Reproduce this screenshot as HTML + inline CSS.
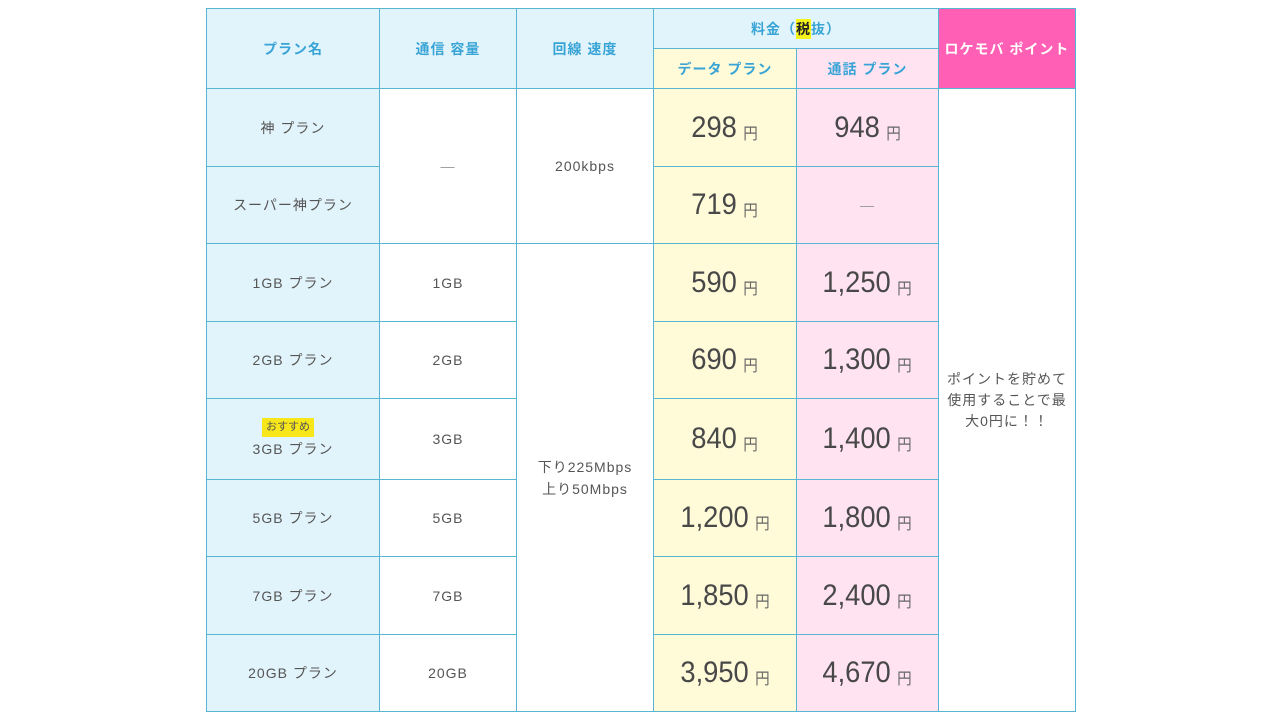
<!DOCTYPE html>
<html>
<head>
<meta charset="utf-8">
<style>
html,body{margin:0;padding:0;background:#fff;}
body{width:1280px;height:720px;position:relative;overflow:hidden;font-family:"Liberation Sans","Noto Sans CJK JP",sans-serif;}
.c{position:absolute;box-sizing:border-box;border:1px solid #58b6d3;display:flex;align-items:center;justify-content:center;text-align:center;color:#555;font-size:14px;letter-spacing:1px;}
.hb{background:#e2f4fb;}
.y{background:#fffad8;}
.p{background:#ffe3f1;}
.w{background:#fff;}
.h{color:#38a4d6;font-weight:bold;font-size:14px;letter-spacing:1px;}
.pk{background:#ff5fb4;color:#fff;font-weight:bold;}
.pr{display:inline-block;white-space:nowrap;transform:scaleX(0.91);transform-origin:center center;letter-spacing:0;}
.num{font-size:30px;color:#484848;}
.en{font-size:16px;color:#666;margin-left:7px;position:relative;top:2px;}
.dash{color:#999;}
.badge{display:inline-block;background:#f7e619;color:#555;font-size:11px;padding:2px 4px;letter-spacing:0;line-height:15px;}
.tax{background:#f4f31a;color:#222;}
</style>
</head>
<body>
<!-- header -->
<div class="c hb h" style="left:206px;top:8px;width:174px;height:81px;">プラン名</div>
<div class="c hb h" style="left:379px;top:8px;width:138px;height:81px;">通信 容量</div>
<div class="c hb h" style="left:516px;top:8px;width:138px;height:81px;">回線 速度</div>
<div class="c hb h" style="left:653px;top:8px;width:286px;height:41px;">料金（<span class="tax">税</span>抜）</div>
<div class="c y h" style="left:653px;top:48px;width:144px;height:41px;">データ プラン</div>
<div class="c p h" style="left:796px;top:48px;width:143px;height:41px;">通話 プラン</div>
<div class="c pk" style="left:938px;top:8px;width:138px;height:81px;">ロケモバ ポイント</div>

<!-- col0 plan names -->
<div class="c hb" style="left:206px;top:88px;width:174px;height:79px;">神 プラン</div>
<div class="c hb" style="left:206px;top:166px;width:174px;height:78px;">スーパー神プラン</div>
<div class="c hb" style="left:206px;top:243px;width:174px;height:79px;">1GB プラン</div>
<div class="c hb" style="left:206px;top:321px;width:174px;height:78px;">2GB プラン</div>
<div class="c hb" style="left:206px;top:398px;width:174px;height:82px;flex-direction:column;"><span class="badge" style="margin-top:-2px;margin-left:-10px;">おすすめ</span><span style="margin-top:2px;">3GB プラン</span></div>
<div class="c hb" style="left:206px;top:479px;width:174px;height:78px;">5GB プラン</div>
<div class="c hb" style="left:206px;top:556px;width:174px;height:79px;">7GB プラン</div>
<div class="c hb" style="left:206px;top:634px;width:174px;height:78px;">20GB プラン</div>

<!-- col1 capacity -->
<div class="c w dash" style="left:379px;top:88px;width:138px;height:156px;">—</div>
<div class="c w" style="left:379px;top:243px;width:138px;height:79px;">1GB</div>
<div class="c w" style="left:379px;top:321px;width:138px;height:78px;">2GB</div>
<div class="c w" style="left:379px;top:398px;width:138px;height:82px;">3GB</div>
<div class="c w" style="left:379px;top:479px;width:138px;height:78px;">5GB</div>
<div class="c w" style="left:379px;top:556px;width:138px;height:79px;">7GB</div>
<div class="c w" style="left:379px;top:634px;width:138px;height:78px;">20GB</div>

<!-- col2 speed -->
<div class="c w" style="left:516px;top:88px;width:138px;height:156px;">200kbps</div>
<div class="c w" style="left:516px;top:243px;width:138px;height:469px;line-height:22px;">下り225Mbps<br>上り50Mbps</div>

<!-- col3 data prices -->
<div class="c y" style="left:653px;top:88px;width:144px;height:79px;"><span class="pr"><span class="num">298</span><span class="en">円</span></span></div>
<div class="c y" style="left:653px;top:166px;width:144px;height:78px;"><span class="pr"><span class="num">719</span><span class="en">円</span></span></div>
<div class="c y" style="left:653px;top:243px;width:144px;height:79px;"><span class="pr"><span class="num">590</span><span class="en">円</span></span></div>
<div class="c y" style="left:653px;top:321px;width:144px;height:78px;"><span class="pr"><span class="num">690</span><span class="en">円</span></span></div>
<div class="c y" style="left:653px;top:398px;width:144px;height:82px;"><span class="pr"><span class="num">840</span><span class="en">円</span></span></div>
<div class="c y" style="left:653px;top:479px;width:144px;height:78px;"><span class="pr"><span class="num">1,200</span><span class="en">円</span></span></div>
<div class="c y" style="left:653px;top:556px;width:144px;height:79px;"><span class="pr"><span class="num">1,850</span><span class="en">円</span></span></div>
<div class="c y" style="left:653px;top:634px;width:144px;height:78px;"><span class="pr"><span class="num">3,950</span><span class="en">円</span></span></div>

<!-- col4 call prices -->
<div class="c p" style="left:796px;top:88px;width:143px;height:79px;"><span class="pr"><span class="num">948</span><span class="en">円</span></span></div>
<div class="c p dash" style="left:796px;top:166px;width:143px;height:78px;">—</div>
<div class="c p" style="left:796px;top:243px;width:143px;height:79px;"><span class="pr"><span class="num">1,250</span><span class="en">円</span></span></div>
<div class="c p" style="left:796px;top:321px;width:143px;height:78px;"><span class="pr"><span class="num">1,300</span><span class="en">円</span></span></div>
<div class="c p" style="left:796px;top:398px;width:143px;height:82px;"><span class="pr"><span class="num">1,400</span><span class="en">円</span></span></div>
<div class="c p" style="left:796px;top:479px;width:143px;height:78px;"><span class="pr"><span class="num">1,800</span><span class="en">円</span></span></div>
<div class="c p" style="left:796px;top:556px;width:143px;height:79px;"><span class="pr"><span class="num">2,400</span><span class="en">円</span></span></div>
<div class="c p" style="left:796px;top:634px;width:143px;height:78px;"><span class="pr"><span class="num">4,670</span><span class="en">円</span></span></div>

<!-- col5 points -->
<div class="c w" style="left:938px;top:88px;width:138px;height:624px;line-height:21px;padding:0 6px;">ポイントを貯めて<br>使用することで最<br>大0円に！！</div>
</body>
</html>
